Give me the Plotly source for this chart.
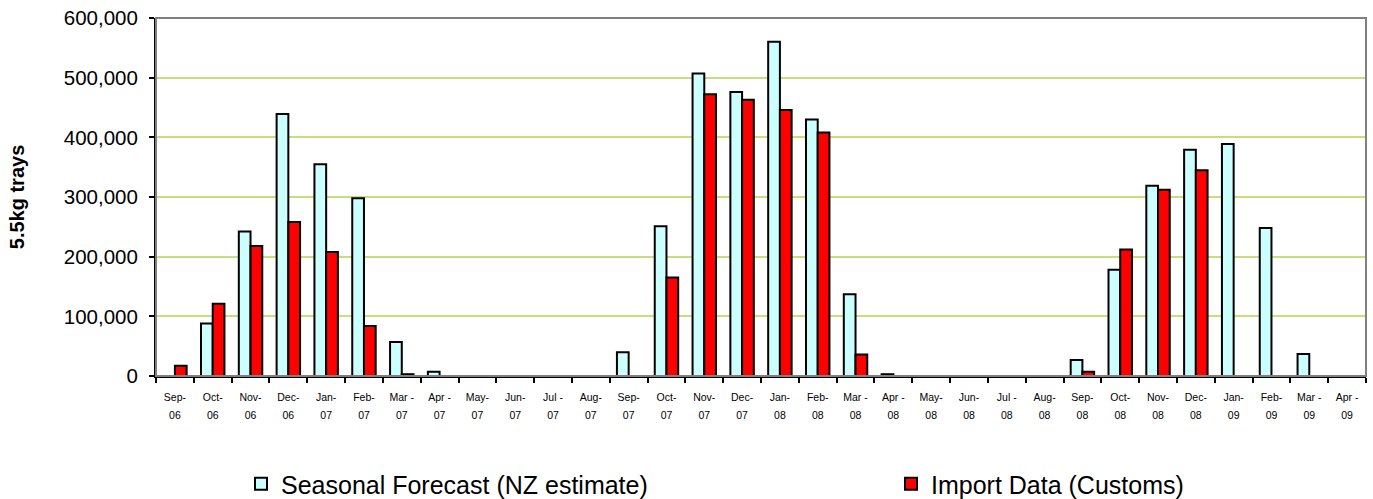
import plotly.graph_objects as go

months = ["Sep-", "Oct-", "Nov-", "Dec-", "Jan-", "Feb-", "Mar -", "Apr -", "May-", "Jun-", "Jul -", "Aug-",
          "Sep-", "Oct-", "Nov-", "Dec-", "Jan-", "Feb-", "Mar -", "Apr -", "May-", "Jun-", "Jul -", "Aug-",
          "Sep-", "Oct-", "Nov-", "Dec-", "Jan-", "Feb-", "Mar -", "Apr -"]
years = ["06", "06", "06", "06", "07", "07", "07", "07", "07", "07", "07", "07",
         "07", "07", "07", "07", "08", "08", "08", "08", "08", "08", "08", "08",
         "08", "08", "08", "08", "09", "09", "09", "09"]
categories = [m + y for m, y in zip(months, years)]

forecast = [None, 88000, 242000, 439000, 355000, 298000, 57000, 7000, None, None, None, None,
            40000, 251000, 507000, 476000, 560000, 430000, 137000, 3000, None, None, None, None,
            27000, 178000, 319000, 379000, 389000, 248000, 37000, None]
imports = [17000, 121000, 218000, 258000, 208000, 84000, 3000, None, None, None, None, None,
           None, 165000, 472000, 463000, 446000, 408000, 36000, None, None, None, None, None,
           7000, 212000, 312000, 345000, None, None, None, None]

FONT = "Arial, Liberation Sans, sans-serif"

fig = go.Figure()
fig.add_trace(go.Bar(
    x=categories, y=forecast, name="Seasonal Forecast (NZ estimate)",
    marker=dict(color="#CCFFFF", line=dict(color="black", width=2)),
    legend="legend",
))
fig.add_trace(go.Bar(
    x=categories, y=imports, name="Import Data (Customs)",
    marker=dict(color="#FF0000", line=dict(color="black", width=2)),
    legend="legend2",
))
# invisible helper trace to bind the second x axis (year labels)
fig.add_trace(go.Scatter(x=[-0.5, 31.5], y=[None, None], xaxis="x2", showlegend=False,
                         hoverinfo="skip", mode="lines"))

W, H = 1373, 499
L, R, T, B = 156, 7, 18, 123

fig.update_layout(
    width=W, height=H,
    margin=dict(l=L, r=R, t=T, b=B, autoexpand=False),
    paper_bgcolor="white", plot_bgcolor="white",
    barmode="group", bargap=0.38, bargroupgap=0.0,
    font=dict(family=FONT, color="black"),
    xaxis=dict(
        type="category", categoryorder="array", categoryarray=categories,
        range=[-0.5, 31.5],
        tickmode="array", tickvals=categories, ticktext=months,
        tickson="boundaries", ticks="outside", ticklen=5, tickwidth=1.5, tickcolor="black",
        showline=True, linecolor="black", linewidth=2,
        showgrid=False, zeroline=False,
        tickfont=dict(size=10.5, family=FONT, color="black"),
        ticklabelstandoff=10,
        tickangle=0,
    ),
    xaxis2=dict(
        overlaying="x", anchor="y", side="bottom",
        range=[-0.5, 31.5],
        tickmode="array", tickvals=list(range(len(years))), ticktext=years,
        ticks="", showline=False, showgrid=False, zeroline=False,
        tickfont=dict(size=10.5, family=FONT, color="black"),
        ticklabelstandoff=31, tickangle=0,
    ),
    yaxis=dict(
        range=[0, 600000], dtick=100000, tickformat=",",
        ticks="outside", ticklen=5, tickwidth=1.5, tickcolor="black",
        showline=True, linecolor="black", linewidth=2,
        showgrid=True, gridcolor="#C4E07C", gridwidth=1.5,
        zeroline=False,
        tickfont=dict(size=20.5, family=FONT, color="black"),
        ticklabelstandoff=7, ticklabeloverflow="allow",
        title=dict(text="<b>5.5kg trays</b>", font=dict(size=20, family=FONT, color="black"),
                   standoff=34),
    ),
    legend=dict(
        xref="container", yref="container",
        x=241 / W, y=1 - 484 / H, xanchor="left", yanchor="middle",
        orientation="h", font=dict(size=25, family=FONT, color="black"),
        bgcolor="rgba(0,0,0,0)",
    ),
    legend2=dict(
        xref="container", yref="container",
        x=891 / W, y=1 - 484 / H, xanchor="left", yanchor="middle",
        orientation="h", font=dict(size=25, family=FONT, color="black"),
        bgcolor="rgba(0,0,0,0)",
    ),
    shapes=[dict(type="rect", xref="paper", yref="paper", x0=0, x1=1, y0=0, y1=1,
                 line=dict(color="#808080", width=2), layer="above")],
)

fig.write_html(
    "out.html",
    config={"displayModeBar": False},
    post_script="document.body.style.margin='0';document.documentElement.style.overflow='hidden';",
)
